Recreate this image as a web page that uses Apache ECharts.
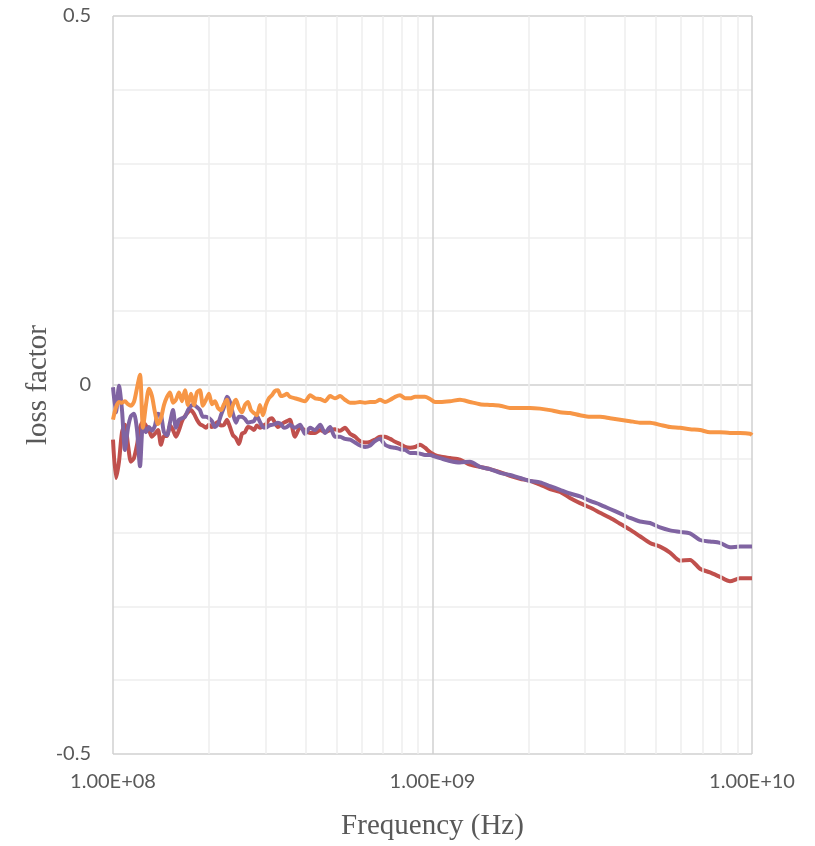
<!DOCTYPE html>
<html>
<head>
<meta charset="utf-8">
<script src="https://cdn.jsdelivr.net/npm/echarts@6/dist/echarts.min.js"></script>
<style>
html,body{margin:0;padding:0;background:#fff;}
#chart{width:815px;height:846px;}
</style>
</head>
<body>
<div id="chart"></div>
<script>
// Frequencies in MHz
const freqMHz = [
  100, 102.2, 104.4, 106.7, 109.0, 111.4, 113.8, 116.3, 118.9, 121.5,
  124.1, 126.8, 129.6, 132.4, 135.3, 138.3, 141.3, 144.4, 147.6, 150.8,
  154.1, 157.4, 160.9, 164.4, 168.0, 171.6, 175.4, 179.2, 183.1, 187.1,
  191.2, 195.4, 199.7, 204.0, 208.5, 213.0, 217.7, 222.5, 227.3, 232.3,
  237.4, 242.5, 247.8, 253.3, 258.8, 264.4, 270.2, 276.1, 282.1, 288.3,
  294.6, 301.0, 307.6, 314.3, 321.2, 328.2, 335.4, 342.7, 350.2, 357.8,
  371, 385, 399, 414, 429, 445, 461, 478, 495, 514,
  532, 552, 572, 593, 615, 638, 661, 685, 710, 737,
  764, 792, 821, 851, 882, 914, 947, 982, 1018, 1056,
  1134, 1219, 1310, 1408, 1513, 1627, 1748, 1879, 2019, 2170,
  2333, 2507, 2694, 2895, 3112, 3344, 3594, 3863, 4151, 4461,
  4795, 5153, 5538, 5952, 6397, 6875, 7388, 7940, 8534, 9171,
  9856, 10000
];

const orangeLoss = [
  -0.047, -0.030, -0.023, -0.024, -0.022, -0.026, -0.028, -0.023, -0.004, 0.014,
  -0.058, -0.027, -0.005, -0.015, -0.037, -0.053, -0.045, -0.027, -0.016, -0.010,
  -0.024, -0.020, -0.010, -0.022, -0.007, -0.027, -0.012, -0.027, -0.010, -0.007,
  -0.028, -0.020, -0.012, -0.026, -0.022, -0.031, -0.034, -0.026, -0.020, -0.042,
  -0.027, -0.020, -0.031, -0.037, -0.027, -0.023, -0.034, -0.038, -0.041, -0.027,
  -0.041, -0.027, -0.018, -0.014, -0.008, -0.007, -0.015, -0.014, -0.012, -0.016,
  -0.018, -0.020, -0.022, -0.014, -0.018, -0.019, -0.022, -0.015, -0.018, -0.015,
  -0.020, -0.024, -0.024, -0.023, -0.024, -0.023, -0.023, -0.020, -0.023, -0.020,
  -0.016, -0.014, -0.018, -0.018, -0.016, -0.016, -0.016, -0.019, -0.023, -0.023,
  -0.022, -0.020, -0.023, -0.026, -0.027, -0.028, -0.031, -0.031, -0.031, -0.032,
  -0.034, -0.037, -0.038, -0.041, -0.043, -0.043, -0.045, -0.047, -0.049, -0.051,
  -0.051, -0.054, -0.057, -0.058, -0.060, -0.061, -0.064, -0.064, -0.065, -0.065,
  -0.066, -0.068
];

const redLoss = [
  -0.074, -0.126, -0.104, -0.064, -0.054, -0.081, -0.104, -0.099, -0.081, -0.058,
  -0.050, -0.055, -0.061, -0.070, -0.066, -0.061, -0.081, -0.069, -0.069, -0.055,
  -0.061, -0.070, -0.061, -0.049, -0.042, -0.037, -0.034, -0.039, -0.047, -0.053,
  -0.055, -0.058, -0.054, -0.057, -0.053, -0.050, -0.055, -0.054, -0.047, -0.057,
  -0.068, -0.072, -0.080, -0.066, -0.064, -0.057, -0.058, -0.061, -0.055, -0.058,
  -0.055, -0.053, -0.047, -0.045, -0.051, -0.057, -0.054, -0.051, -0.049, -0.047,
  -0.070, -0.058, -0.061, -0.065, -0.065, -0.061, -0.064, -0.061, -0.060, -0.062,
  -0.058, -0.066, -0.070, -0.076, -0.078, -0.077, -0.074, -0.070, -0.070, -0.073,
  -0.077, -0.080, -0.084, -0.085, -0.084, -0.081, -0.085, -0.091, -0.095, -0.097,
  -0.099, -0.101, -0.108, -0.111, -0.114, -0.118, -0.123, -0.127, -0.130, -0.135,
  -0.141, -0.145, -0.153, -0.160, -0.166, -0.173, -0.180, -0.188, -0.196, -0.205,
  -0.214, -0.219, -0.227, -0.238, -0.237, -0.249, -0.254, -0.260, -0.266, -0.262,
  -0.262, -0.262
];

const purpleLoss = [
  -0.003, -0.037, -0.001, -0.034, -0.088, -0.058, -0.042, -0.039, -0.061, -0.110,
  -0.054, -0.064, -0.057, -0.062, -0.055, -0.039, -0.041, -0.064, -0.068, -0.051,
  -0.034, -0.058, -0.047, -0.045, -0.043, -0.034, -0.028, -0.027, -0.030, -0.034,
  -0.043, -0.043, -0.045, -0.049, -0.057, -0.053, -0.041, -0.030, -0.016, -0.023,
  -0.039, -0.051, -0.043, -0.043, -0.046, -0.051, -0.050, -0.049, -0.042, -0.050,
  -0.057, -0.058, -0.055, -0.054, -0.053, -0.051, -0.053, -0.058, -0.057, -0.054,
  -0.058, -0.054, -0.066, -0.058, -0.061, -0.054, -0.065, -0.057, -0.070, -0.070,
  -0.073, -0.074, -0.078, -0.082, -0.084, -0.082, -0.076, -0.073, -0.081, -0.084,
  -0.085, -0.087, -0.088, -0.092, -0.092, -0.093, -0.095, -0.095, -0.097, -0.099,
  -0.103, -0.105, -0.104, -0.111, -0.114, -0.119, -0.122, -0.126, -0.130, -0.132,
  -0.137, -0.142, -0.147, -0.151, -0.157, -0.162, -0.168, -0.174, -0.180, -0.185,
  -0.187, -0.193, -0.197, -0.199, -0.201, -0.210, -0.212, -0.214, -0.220, -0.219,
  -0.219, -0.219
];

const yTicks = [-0.5, 0, 0.5];
const minorFreqHz = [2e8,3e8,4e8,5e8,6e8,7e8,8e8,9e8,2e9,3e9,4e9,5e9,6e9,7e9,8e9,9e9];

function pairs(vals){ return freqMHz.map((f,i)=>[f*1e6, vals[i]]); }
function sci(v){
  const e = Math.round(Math.log10(v));
  const m = v/Math.pow(10,e);
  const es = (e<0?'-':'+') + String(Math.abs(e)).padStart(2,'0');
  return m.toFixed(2) + 'E' + es;
}

const chart = echarts.init(document.getElementById('chart'), null, {renderer:'canvas'});
const lineW = 4;
chart.setOption({
  animation:false,
  backgroundColor:'#ffffff',
  grid:{left:113, right:63, top:16, bottom:90, containLabel:false},
  xAxis:{
    type:'log', logBase:10, min:1e8, max:1e10,
    name:'Frequency (Hz)', nameLocation:'middle', nameGap:58, nameMoveOverlap:false,
    nameTextStyle:{fontFamily:'Liberation Serif', fontSize:29, color:'#595959'},
    axisLine:{show:false}, axisTick:{show:false},
    axisLabel:{fontFamily:'Lato', fontSize:20, color:'#595959', margin:18, formatter:sci},
    splitLine:{show:true, lineStyle:{color:'#d0d0d0', width:1.5}}
  },
  yAxis:{
    type:'value', min:-0.5, max:0.5, interval:0.5,
    name:'loss factor', nameLocation:'middle', nameGap:60, nameRotate:90, nameMoveOverlap:false,
    nameTextStyle:{fontFamily:'Liberation Serif', fontSize:29, color:'#595959'},
    axisLine:{show:false}, axisTick:{show:false},
    axisLabel:{fontFamily:'Lato', fontSize:20, color:'#595959', margin:22,
      formatter:v=>String(yTicks.find(t=>Math.abs(t-v)<1e-9) ?? v)},
    splitLine:{show:true, lineStyle:{color:'#d0d0d0', width:1.5}},
    minorTick:{show:false, splitNumber:5},
    minorSplitLine:{show:true, lineStyle:{color:'#eeeeee', width:1.5}}
  },
  series:[
    {type:'line', data:[], z:1, silent:true,
     markLine:{silent:true, symbol:'none', label:{show:false},
       lineStyle:{color:'#eeeeee', width:1.5, type:'solid'},
       data:minorFreqHz.map(f=>({xAxis:f}))}},
    {name:'red', type:'line', data:pairs(redLoss), showSymbol:false, smooth:0.25, z:3,
     lineStyle:{color:'#c0504d', width:lineW}, itemStyle:{color:'#c0504d'}},
    {name:'purple', type:'line', data:pairs(purpleLoss), showSymbol:false, smooth:0.25, z:4,
     lineStyle:{color:'#8064a2', width:lineW}, itemStyle:{color:'#8064a2'}},
    {name:'orange', type:'line', data:pairs(orangeLoss), showSymbol:false, smooth:0.25, z:5,
     lineStyle:{color:'#f79646', width:lineW}, itemStyle:{color:'#f79646'}}
  ]
});
</script>
</body>
</html>
